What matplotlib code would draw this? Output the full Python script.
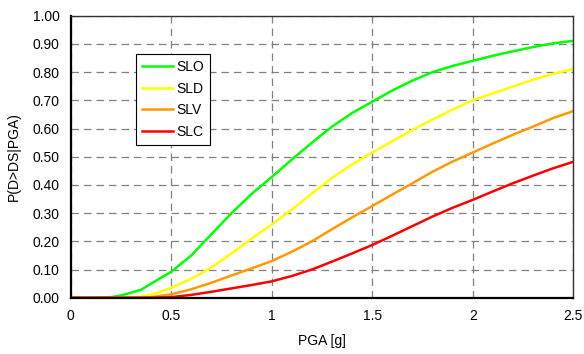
import matplotlib
matplotlib.use("Agg")
import matplotlib.pyplot as plt

plt.rcParams['font.family'] = ['Liberation Sans', 'DejaVu Sans']

# PGA [g]
pga = [0.0, 0.1, 0.2, 0.25, 0.3, 0.35, 0.4, 0.5, 0.6, 0.7, 0.8, 0.9, 1.0,
       1.1, 1.2, 1.3, 1.4, 1.5, 1.6, 1.7, 1.8, 1.9, 2.0, 2.1, 2.2, 2.3, 2.4, 2.5]

# probabilita' di superamento per stato limite
slo = [0.0, 0.0, 0.002, 0.008, 0.018, 0.028, 0.05, 0.092, 0.15, 0.225, 0.30, 0.368, 0.428,
       0.49, 0.55, 0.607, 0.655, 0.695, 0.735, 0.77, 0.80, 0.822, 0.84, 0.858, 0.874, 0.889, 0.902, 0.911]
sld = [0.0, 0.0, 0.0, 0.0, 0.002, 0.004, 0.01, 0.035, 0.067, 0.107, 0.157, 0.21, 0.26,
       0.312, 0.37, 0.425, 0.473, 0.515, 0.555, 0.595, 0.632, 0.667, 0.70, 0.725, 0.749, 0.773, 0.794, 0.811]
slv = [0.0, 0.0, 0.0, 0.0, 0.0, 0.0, 0.002, 0.012, 0.03, 0.053, 0.079, 0.104, 0.13,
       0.163, 0.20, 0.243, 0.285, 0.325, 0.366, 0.406, 0.447, 0.483, 0.515, 0.547, 0.578, 0.607, 0.637, 0.662]
slc = [0.0, 0.0, 0.0, 0.0, 0.0, 0.0, 0.0, 0.002, 0.01, 0.021, 0.033, 0.045, 0.058,
       0.077, 0.10, 0.128, 0.157, 0.187, 0.22, 0.254, 0.288, 0.319, 0.347, 0.377, 0.406, 0.433, 0.459, 0.482]

labels = ['SLO', 'SLD', 'SLV', 'SLC']
colors = ['#00ff00', '#ffff00', '#ff9900', '#ff0000']

x_ticks = [0, 0.5, 1, 1.5, 2, 2.5]
x_tick_labels = ['0', '0.5', '1', '1.5', '2', '2.5']
y_ticks = [i / 10 for i in range(11)]

fig = plt.figure(figsize=(5.84, 3.54), dpi=100)
ax = fig.add_axes([0.121, 0.159, 0.8607, 0.7966])

for serie, lab, col in zip([slo, sld, slv, slc], labels, colors):
    ax.plot(pga, serie, color=col, lw=1.8, label=lab)

ax.set_xlim(0, 2.5)
ax.set_ylim(0, 1.0)
ax.set_xticks(x_ticks)
ax.set_xticklabels(x_tick_labels)
ax.set_yticks(y_ticks)
ax.set_yticklabels(['%.2f' % v for v in y_ticks])
ax.tick_params(length=0, labelsize=10, pad=8, colors='black')

ax.grid(True, color='#808080', ls=(0, (6, 4)), lw=0.9)
ax.set_axisbelow(True)

for side in ['left', 'bottom']:
    ax.spines[side].set_linewidth(1.6)
    ax.spines[side].set_color('black')
for side in ['top', 'right']:
    ax.spines[side].set_linewidth(1.0)
    ax.spines[side].set_color('#333333')

ax.set_xlabel('PGA [g]', fontsize=10, labelpad=8)
ax.set_ylabel('P(D>DS|PGA)', fontsize=10, labelpad=8)

leg = ax.legend(loc='upper left', bbox_to_anchor=(0.13, 0.865), fontsize=10,
                frameon=True, fancybox=False, shadow=False, handlelength=2.2,
                handletextpad=0.25, labelspacing=0.55, borderpad=0.45, borderaxespad=0)
leg.get_frame().set_edgecolor('black')
leg.get_frame().set_linewidth(0.8)
leg.get_frame().set_alpha(1)

fig.savefig('out.png', dpi=100)
